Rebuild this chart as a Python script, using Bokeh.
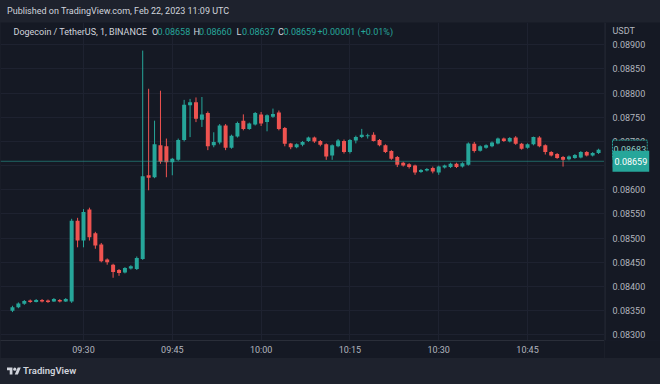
import pandas as pd
from bokeh.plotting import figure
from bokeh.models import (Range1d, FixedTicker, DatetimeTickFormatter,
                          Span, Label, Div, ColumnDataSource)
from bokeh.layouts import column, row
from bokeh.embed import file_html
from bokeh.resources import INLINE

# ---------------- data ----------------
published_text = "Published on TradingView.com, Feb 22, 2023 11:09 UTC"
symbol_text = "Dogecoin / TetherUS, 1, BINANCE"
quote_unit = "USDT"
session_day = "2023-02-22"
first_bar = "09:18"

opens = [0.08350, 0.08357, 0.08364, 0.08371, 0.08368, 0.08372, 0.08371, 0.08369, 0.08372, 0.08369,
         0.08369, 0.08536, 0.08495, 0.08559, 0.08510, 0.08487, 0.08456, 0.08445, 0.08434, 0.08429,
         0.08437, 0.08436, 0.08457, 0.08630, 0.08626, 0.08692, 0.08690, 0.08657, 0.08662, 0.08703,
         0.08775, 0.08781, 0.08745, 0.08759, 0.08692, 0.08698, 0.08733, 0.08687, 0.08710, 0.08743,
         0.08726, 0.08735, 0.08756, 0.08740, 0.08751, 0.08760, 0.08728, 0.08696, 0.08688, 0.08693,
         0.08701, 0.08708, 0.08701, 0.08694, 0.08671, 0.08690, 0.08701, 0.08678, 0.08702, 0.08709,
         0.08711, 0.08714, 0.08703, 0.08692, 0.08680, 0.08668, 0.08656, 0.08653, 0.08650, 0.08637,
         0.08640, 0.08645, 0.08636, 0.08646, 0.08647, 0.08654, 0.08648, 0.08652, 0.08695, 0.08681,
         0.08687, 0.08690, 0.08696, 0.08706, 0.08700, 0.08708, 0.08695, 0.08687, 0.08694, 0.08708,
         0.08692, 0.08678, 0.08674, 0.08668, 0.08663, 0.08666, 0.08667, 0.08678, 0.08671, 0.08676]
highs = [0.08360, 0.08367, 0.08372, 0.08373, 0.08374, 0.08374, 0.08373, 0.08376, 0.08374, 0.08376,
         0.08540, 0.08542, 0.08560, 0.08563, 0.08513, 0.08490, 0.08458, 0.08447, 0.08436, 0.08440,
         0.08444, 0.08462, 0.08888, 0.08809, 0.08743, 0.08805, 0.08706, 0.08666, 0.08706, 0.08786,
         0.08788, 0.08791, 0.08792, 0.08762, 0.08719, 0.08736, 0.08736, 0.08714, 0.08741, 0.08756,
         0.08739, 0.08761, 0.08761, 0.08756, 0.08768, 0.08764, 0.08730, 0.08697, 0.08696, 0.08701,
         0.08710, 0.08710, 0.08703, 0.08696, 0.08694, 0.08705, 0.08704, 0.08705, 0.08712, 0.08726,
         0.08716, 0.08719, 0.08705, 0.08694, 0.08682, 0.08670, 0.08658, 0.08655, 0.08652, 0.08643,
         0.08645, 0.08648, 0.08650, 0.08652, 0.08656, 0.08656, 0.08657, 0.08698, 0.08699, 0.08692,
         0.08694, 0.08700, 0.08708, 0.08708, 0.08709, 0.08711, 0.08697, 0.08696, 0.08710, 0.08711,
         0.08694, 0.08680, 0.08676, 0.08670, 0.08671, 0.08674, 0.08680, 0.08680, 0.08678, 0.08685]
lows = [0.08347, 0.08355, 0.08362, 0.08366, 0.08367, 0.08367, 0.08366, 0.08368, 0.08367, 0.08368,
        0.08366, 0.08481, 0.08481, 0.08495, 0.08478, 0.08450, 0.08445, 0.08418, 0.08422, 0.08427,
        0.08435, 0.08434, 0.08455, 0.08599, 0.08624, 0.08654, 0.08626, 0.08630, 0.08660, 0.08700,
        0.08709, 0.08740, 0.08730, 0.08682, 0.08688, 0.08694, 0.08682, 0.08685, 0.08708, 0.08723,
        0.08724, 0.08733, 0.08732, 0.08721, 0.08749, 0.08723, 0.08690, 0.08684, 0.08686, 0.08690,
        0.08699, 0.08697, 0.08690, 0.08662, 0.08662, 0.08688, 0.08675, 0.08675, 0.08696, 0.08707,
        0.08706, 0.08700, 0.08690, 0.08676, 0.08662, 0.08647, 0.08648, 0.08644, 0.08631, 0.08635,
        0.08638, 0.08634, 0.08631, 0.08644, 0.08645, 0.08645, 0.08646, 0.08650, 0.08677, 0.08679,
        0.08685, 0.08688, 0.08694, 0.08699, 0.08698, 0.08693, 0.08683, 0.08685, 0.08692, 0.08688,
        0.08673, 0.08669, 0.08664, 0.08648, 0.08661, 0.08664, 0.08665, 0.08669, 0.08669, 0.08674]
closes = [0.08357, 0.08365, 0.08370, 0.08368, 0.08372, 0.08369, 0.08368, 0.08374, 0.08369, 0.08374,
          0.08536, 0.08495, 0.08554, 0.08502, 0.08485, 0.08452, 0.08450, 0.08430, 0.08428, 0.08438,
          0.08442, 0.08459, 0.08628, 0.08625, 0.08694, 0.08658, 0.08657, 0.08664, 0.08703, 0.08776,
          0.08781, 0.08747, 0.08756, 0.08690, 0.08699, 0.08733, 0.08687, 0.08712, 0.08738, 0.08726,
          0.08737, 0.08759, 0.08737, 0.08754, 0.08757, 0.08726, 0.08695, 0.08688, 0.08694, 0.08699,
          0.08708, 0.08700, 0.08693, 0.08669, 0.08692, 0.08702, 0.08678, 0.08703, 0.08709, 0.08714,
          0.08713, 0.08701, 0.08692, 0.08678, 0.08664, 0.08652, 0.08650, 0.08647, 0.08636, 0.08641,
          0.08643, 0.08638, 0.08648, 0.08650, 0.08654, 0.08647, 0.08655, 0.08696, 0.08680, 0.08690,
          0.08692, 0.08698, 0.08706, 0.08701, 0.08707, 0.08695, 0.08685, 0.08694, 0.08709, 0.08690,
          0.08678, 0.08671, 0.08666, 0.08662, 0.08669, 0.08672, 0.08678, 0.08671, 0.08676, 0.08683]

price_ticks = [0.0830, 0.0835, 0.0840, 0.0845, 0.0850, 0.0855, 0.0860,
               0.0865, 0.0870, 0.0875, 0.0880, 0.0885, 0.0890]
price_tick_labels = ["0.08300", "0.08350", "0.08400", "0.08450", "0.08500", "0.08550", "0.08600",
                     "0.08650", "0.08700", "0.08750", "0.08800", "0.08850", "0.08900"]
time_ticks = ["09:30", "09:45", "10:00", "10:15", "10:30", "10:45"]

last_price = 0.08659
last_bar_close = 0.08683
legend_fields = ["O", "H", "L", "C"]
legend_values = ["0.08658", "0.08660", "0.08637", "0.08659"]
legend_change = "+0.00001 (+0.01%)"

# ---------------- styling ----------------
UP = "#26a69a"
DOWN = "#ef5350"
PANEL = "#151924"
OUTER = "#1e222d"
TEXT = "#d1d4dc"
AXIS_TEXT = "#b2b5be"
GRID = "#1e2230"
FONT = "Roboto"
FS = "9px"

CHART_H = 336
AXIS_H = 18
FRAME_H = CHART_H - AXIS_H
Y0, Y1 = 0.082882, 0.089461

times = pd.date_range(f"{session_day} {first_bar}", periods=len(opens), freq="1min")
colors = [UP if c >= o else DOWN for o, c in zip(opens, closes)]
src = ColumnDataSource(dict(
    t=times, o=opens, h=highs, l=lows, c=closes,
    top=[max(o, c) for o, c in zip(opens, closes)],
    bottom=[min(o, c) for o, c in zip(opens, closes)],
    color=colors))

anchor = pd.Timestamp(f"{session_day} 09:30")
x_start = anchor + pd.Timedelta(minutes=-14.02)
x_end = anchor + pd.Timedelta(minutes=88.0)
yr = Range1d(Y0, Y1)

# ---------------- main chart ----------------
p = figure(width=604, height=CHART_H, x_axis_type="datetime", y_axis_location=None,
           x_range=Range1d(x_start, x_end), y_range=yr, title=None,
           output_backend="svg", toolbar_location=None)
p.min_border_left = 0
p.min_border_right = 0
p.min_border_top = 0
p.min_border_bottom = AXIS_H
p.background_fill_color = PANEL
p.border_fill_color = PANEL
p.outline_line_color = None

tick_ms = [pd.Timestamp(f"{session_day} {t}").value // 10**6 for t in time_ticks]
p.xaxis.ticker = FixedTicker(ticks=tick_ms)
p.xaxis.formatter = DatetimeTickFormatter(minutes="%H:%M", hourmin="%H:%M", hours="%H:%M",
                                          minsec="%H:%M", seconds="%H:%M", days="%H:%M")
p.xaxis.major_label_text_color = AXIS_TEXT
p.xaxis.major_label_text_font = FONT
p.xaxis.major_label_text_font_size = FS
p.xaxis.major_tick_line_color = None
p.xaxis.minor_tick_line_color = None
p.xaxis.major_tick_out = 0
p.xaxis.major_tick_in = 0
p.xaxis.axis_line_color = "#2a2e39"
p.xaxis.major_label_standoff = 4

p.xgrid.grid_line_color = GRID
p.ygrid.ticker = FixedTicker(ticks=price_ticks)
p.ygrid.grid_line_color = GRID

# candles
p.segment(x0="t", y0="l", x1="t", y1="h", line_color="color", line_width=1, source=src)
p.vbar(x="t", width=40500, top="top", bottom="bottom", fill_color="color",
       line_color=None, source=src)

# last price line
p.add_layout(Span(location=last_price, dimension="width", line_color=UP,
                  line_alpha=0.55, line_width=1))

# header legend
hy = FRAME_H - 9
p.add_layout(Label(x=13, y=hy, x_units="screen", y_units="screen", text=symbol_text,
                   text_color=TEXT, text_font=FONT, text_font_size=FS, text_baseline="middle"))
field_x = [151.5, 193, 236, 277.5]
for fx, f, v in zip(field_x, legend_fields, legend_values):
    p.add_layout(Label(x=fx, y=hy, x_units="screen", y_units="screen", text=f,
                       text_color=TEXT, text_font=FONT, text_font_size=FS,
                       text_baseline="middle"))
    p.add_layout(Label(x=fx + 5.5, y=hy, x_units="screen", y_units="screen", text=v,
                       text_color=UP, text_font=FONT, text_font_size=FS,
                       text_baseline="middle"))
p.add_layout(Label(x=317, y=hy, x_units="screen", y_units="screen", text=legend_change,
                   text_color=UP, text_font=FONT, text_font_size=FS, text_baseline="middle"))

# ---------------- price scale ----------------
s = figure(width=56, height=CHART_H, x_axis_location=None, y_axis_location=None,
           x_range=Range1d(0, 56), y_range=yr, title=None,
           output_backend="svg", toolbar_location=None)
s.min_border_left = 0
s.min_border_right = 0
s.min_border_top = 0
s.min_border_bottom = AXIS_H
s.background_fill_color = PANEL
s.border_fill_color = PANEL
s.outline_line_color = None
s.xgrid.visible = False
s.ygrid.visible = False
s.add_layout(Span(location=0.5, dimension="height", line_color="#2a2e39", line_width=1))
s.text(x=8, y=price_ticks, text=price_tick_labels, text_color=AXIS_TEXT,
       text_font={"value": FONT}, text_font_size=FS, text_baseline="middle",
       text_align="left")
s.add_layout(Label(x=8, y=FRAME_H - 8, x_units="screen", y_units="screen", text=quote_unit,
                   text_color=AXIS_TEXT, text_font=FONT, text_font_size=FS,
                   text_baseline="middle"))
s.add_layout(Label(x=8, y=last_bar_close, x_units="screen", y_units="data",
                   text=f"{last_bar_close:.5f}", text_color="#8fcfc6", text_font=FONT,
                   text_font_size=FS, text_baseline="middle",
                   background_fill_color=PANEL, border_line_color=UP,
                   border_line_dash="2 1", padding=(1, 6)))
s.add_layout(Label(x=8, y=last_price, x_units="screen", y_units="data",
                   text=f"{last_price:.5f}", text_color="#ffffff", text_font=FONT,
                   text_font_size=FS, text_baseline="middle",
                   background_fill_color=UP, padding=(2, 7)))

# ---------------- bands ----------------
top_div = Div(text=published_text, width=660, height=22, margin=0,
              styles={"background-color": OUTER, "color": TEXT, "font-family": FONT,
                      "font-size": "9px", "line-height": "22px", "white-space": "nowrap",
                      "overflow": "hidden", "padding-left": "7px", "box-sizing": "border-box"})

logo = ('<svg width="14" height="11" viewBox="0 0 36 28" style="margin-right:2px">'
        '<path d="M14 22H7V11H0V4h14v18zM28 22h-8l7.5-18h8L28 22z" fill="#d1d4dc"/>'
        '<circle cx="20" cy="8" r="4" fill="#d1d4dc"/></svg>')
bottom_div = Div(text=f'<div style="display:flex;align-items:center;height:26px">{logo}'
                      f'<span style="font-weight:600">TradingView</span></div>',
                 width=660, height=26, margin=0,
                 styles={"background-color": OUTER, "color": TEXT, "font-family": FONT,
                         "font-size": "9.5px", "overflow": "hidden", "padding-left": "7px",
                         "box-sizing": "border-box"})

layout = column(top_div, row(p, s, spacing=0), bottom_div, spacing=0,
                styles={"background-color": OUTER})

open("out.html", "w").write(file_html(layout, INLINE))
